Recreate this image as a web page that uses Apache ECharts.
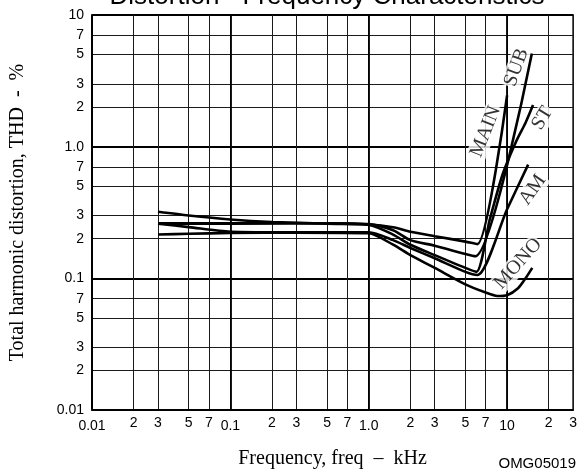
<!DOCTYPE html>
<html><head><meta charset="utf-8">
<script src="https://cdn.jsdelivr.net/npm/echarts@6/dist/echarts.min.js"></script>
<style>html,body{margin:0;padding:0;background:#fff}#c{width:580px;height:474px}</style>
</head><body><div id="c"></div>
<script>
// Tick values and labels
const xTickValues = [0.01,0.02,0.03,0.05,0.07,0.1,0.2,0.3,0.5,0.7,1,2,3,5,7,10,20,30];
const xTickLabels = ['0.01','2','3','5','7','0.1','2','3','5','7','1.0','2','3','5','7','10','2','3'];
const yTickValues = [0.01,0.02,0.03,0.05,0.07,0.1,0.2,0.3,0.5,0.7,1,2,3,5,7,10];
const yTickLabels = ['0.01','2','3','5','7','0.1','2','3','5','7','1.0','2','3','5','7','10'];
const decadeValues = [0.01,0.1,1,10];

// Curves: [frequency kHz, THD %]
const mainData = [[0.03,0.32],[0.05,0.30],[0.1,0.28],[0.2,0.268],[0.5,0.26],[1,0.256],[1.5,0.244],[2,0.226],[3,0.209],[5,0.19],[6.1,0.182],[10,2.45]];
const subData  = [[0.03,0.26],[0.1,0.26],[0.3,0.262],[0.5,0.262],[1,0.258],[1.5,0.232],[2,0.195],[3,0.177],[5,0.153],[5.9,0.147],[15.1,5.1]];
const stData   = [[0.03,0.262],[0.1,0.262],[0.3,0.262],[0.5,0.262],[1,0.255],[1.5,0.215],[2,0.18],[3,0.15],[5,0.12],[6,0.112],[7.5,0.28],[9.3,0.62],[11.6,1.09],[13.6,1.52],[15.4,2.07]];
const amData   = [[0.03,0.26],[0.05,0.245],[0.1,0.226],[0.3,0.224],[1,0.224],[1.5,0.195],[2,0.17],[3,0.142],[5,0.112],[6.1,0.106],[10,0.335],[14.2,0.73]];
const monoData = [[0.03,0.215],[0.05,0.218],[0.1,0.221],[0.3,0.222],[1,0.22],[1.5,0.18],[2,0.15],[3,0.12],[5,0.09],[7,0.078],[8.5,0.0735],[10,0.0745],[12,0.084],[13.6,0.1],[15.2,0.12]];

// Curve name annotations: anchor [kHz, %] and rotation
const curveLabels = [
  {name:'MAIN', f:7.0,  v:1.3,   rotate:68},
  {name:'SUB',  f:11.7, v:4.0,   rotate:70},
  {name:'ST',   f:18.0, v:1.64,  rotate:58},
  {name:'AM',   f:15.3, v:0.47,  rotate:55},
  {name:'MONO', f:12.0, v:0.129, rotate:48}
];

function findIdx(vals, v){
  for (let i=0;i<vals.length;i++){
    if (Math.abs(Math.log10(v)-Math.log10(vals[i]))<1e-6) return i;
  }
  return -1;
}
function isDecade(v){ const l=Math.log10(v); return Math.abs(l-Math.round(l))<1e-6; }
function fmt(vals, labels, rich){
  return function(v){
    const i=findIdx(vals, v);
    if (i<0) return '';
    if (!rich) return labels[i];
    return (isDecade(v) ? '{d|' : '{m|') + labels[i] + '}';
  };
}

const SANS = 'Liberation Sans', SERIF = 'Liberation Serif';
const minorLine = {show:true, lineStyle:{color:'#1a1a1a', width:1}};
const majorLine = {show:true, lineStyle:{color:'#000', width:1.8}};

function curve(data){
  return {type:'line', data:data, xAxisIndex:0, yAxisIndex:0, z:3, symbol:'none', smooth:0.25,
    lineStyle:{color:'#000', width:2.6}, silent:true};
}

const chart = echarts.init(document.getElementById('c'), null, {renderer:'canvas'});
chart.setOption({
  animation:false,
  backgroundColor:'#fff',
  grid:{left:81.7, right:4.6, top:15, bottom:49, show:true, borderColor:'#000', borderWidth:1.5, containLabel:false},
  xAxis:[
    {type:'log', logBase:10, min:0.01, max:30, position:'bottom',
     axisLine:{show:true, lineStyle:{color:'#000', width:1.5}},
     axisTick:{show:false, customValues:xTickValues},
     axisLabel:{customValues:xTickValues, formatter:fmt(xTickValues,xTickLabels,true), color:'#000', fontFamily:SANS, fontSize:14, margin:6, hideOverlap:false,
       rich:{d:{fontFamily:SANS, fontSize:14, color:'#000', padding:[3,0,0,0]}, m:{fontFamily:SANS, fontSize:14, color:'#000'}}},
     splitLine:minorLine,
     name:'Frequency, freq  \u2013  kHz', nameLocation:'middle', nameGap:39,
     nameTextStyle:{fontFamily:SERIF, fontSize:20, color:'#000'}},
    {type:'log', logBase:10, min:0.01, max:30, position:'top',
     axisLine:{show:false}, axisTick:{show:false, customValues:decadeValues},
     axisLabel:{show:false}, splitLine:majorLine}
  ],
  yAxis:[
    {type:'log', logBase:10, min:0.01, max:10, position:'left',
     axisLine:{show:true, lineStyle:{color:'#000', width:1.5}},
     axisTick:{show:false, customValues:yTickValues},
     axisLabel:{customValues:yTickValues, formatter:fmt(yTickValues,yTickLabels,false), color:'#000', fontFamily:SANS, fontSize:14, margin:8, hideOverlap:false},
     splitLine:minorLine,
     name:'Total harmonic distortion, THD  -  %', nameLocation:'middle', nameGap:64, nameRotate:90,
     nameTextStyle:{fontFamily:SERIF, fontSize:20, color:'#000'}},
    {type:'log', logBase:10, min:0.01, max:10, position:'right',
     axisLine:{show:false}, axisTick:{show:false, customValues:decadeValues},
     axisLabel:{show:false}, splitLine:majorLine}
  ],
  graphic:[
    {type:'text', x:327, y:-3, silent:true,
     style:{text:'Distortion - Frequency Characteristics', font:'26px "Liberation Sans"', fill:'#000', align:'center', verticalAlign:'middle', textAlign:'center', textVerticalAlign:'middle'}},
    {type:'text', x:576, y:464, silent:true,
     style:{text:'OMG05019', font:'15px "Liberation Sans"', fill:'#000', align:'right', verticalAlign:'middle', textAlign:'right', textVerticalAlign:'middle'}}
  ],
  series:[
    curve(mainData), curve(subData), curve(stData), curve(amData), curve(monoData),
    {type:'scatter', xAxisIndex:0, yAxisIndex:0, z:2, symbolSize:0, silent:true,
     data:curveLabels.map(l=>({name:l.name, value:[l.f,l.v], label:{rotate:l.rotate}})),
     label:{show:true, position:'inside', formatter:'{b}', fontFamily:SERIF, fontSize:20, color:'#000', backgroundColor:'#fff', padding:[0,1]}}
  ]
});
</script></body></html>
